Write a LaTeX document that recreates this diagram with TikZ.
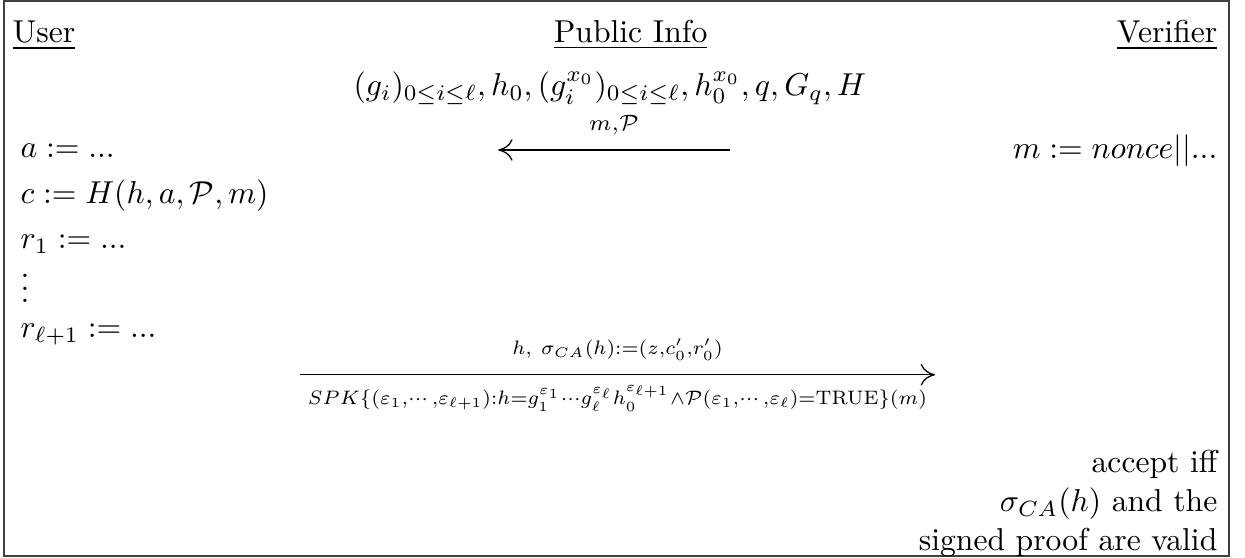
\documentclass[tikz,border=0pt]{standalone}
\usepackage{amsmath}
\usepackage{amssymb}
\usetikzlibrary{positioning, arrows.meta}
\tikzset{
  party/.style={inner sep=0pt},
  userline/.style={inner sep=0pt, anchor=base west},
  verline/.style={inner sep=0pt, anchor=base east},
  msglabel/.style={inner sep=2pt, font=\normalsize},
  arrow/.style={thin,-{Computer Modern Rightarrow[length=1.6mm,width=2.4mm]}},
  frame/.style={draw=black!75, line width=0.6pt}
}

\begin{document}
\begin{tikzpicture}[x=1cm,y=1cm]
    \useasboundingbox (0,0) rectangle (13.82,-6.19);
    \draw [frame] (0.045,-0.012) rectangle (13.64,-6.17);

    % headers
    \node (user) [party, anchor=base west] at (0.133,-0.477) {\underline{User}};
    \node (pub) [party, anchor=base] at (7.0,-0.477) {\underline{Public Info}};
    \node (ver) [party, anchor=base east] at (13.52,-0.477) {\underline{Verifier}};
    \node (pubinfo) [party, anchor=base] at (6.77,-1.06) {$(g_i)_{0\leq i\leq\ell}, h_0, (g_i^{x_0})_{0\leq i\leq\ell}, h_0^{x_0}, q, G_q, H$};

    % user side
    \node (ua) [userline] at (0.222,-1.75) {$a := ...$};
    \node (uc) [userline] at (0.222,-2.26) {$c := H(h,a,\mathcal{P},m)$};
    \node (ur) [userline] at (0.222,-2.76) {$r_1 := ...$};
    \node (udots) [userline, text height=9pt, text depth=0pt] at (0.222,-3.36) {$\vdots$};
    \node (url) [userline] at (0.222,-3.75) {$r_{\ell+1} := ...$};

    % verifier side
    \node (vm) [verline] at (13.52,-1.76) {$m := nonce||...$};
    \node (vacc) [verline] at (13.52,-5.25) {accept iff};
    \node (vsig) [verline] at (13.52,-5.68) {$\sigma_{CA}(h)$ and the};
    \node (vproof) [verline] at (13.52,-6.11) {signed proof are valid};

    % messages
    \coordinate (chalfrom) at (8.10,-1.665);
    \coordinate (chalto) at (5.53,-1.665);
    \draw [arrow] (chalfrom) -- (chalto)
        node (challabel) [midway, above, msglabel, yshift=2.5pt] {$\scriptstyle m,\mathcal{P}$};

    \coordinate (respfrom) at (3.33,-4.16);
    \coordinate (respto) at (10.38,-4.16);
    \draw [arrow] (respfrom) -- (respto)
        node (resplabel) [midway, above, msglabel, scale=0.88, yshift=3pt] {$\scriptstyle h,\ \sigma_{CA}(h):=(z,c_0',r_0')$}
        node (spklabel) [midway, below, msglabel, scale=0.88, yshift=-1.5pt] {$\scriptstyle SPK\{(\varepsilon_1,\cdots,\varepsilon_{\ell+1}):h=g_1^{\varepsilon_1}\cdots g_\ell^{\varepsilon_\ell}h_0^{\varepsilon_{\ell+1}}\wedge\mathcal{P}(\varepsilon_1,\cdots,\varepsilon_\ell)=\text{TRUE}\}(m)$};
\end{tikzpicture}
\end{document}
